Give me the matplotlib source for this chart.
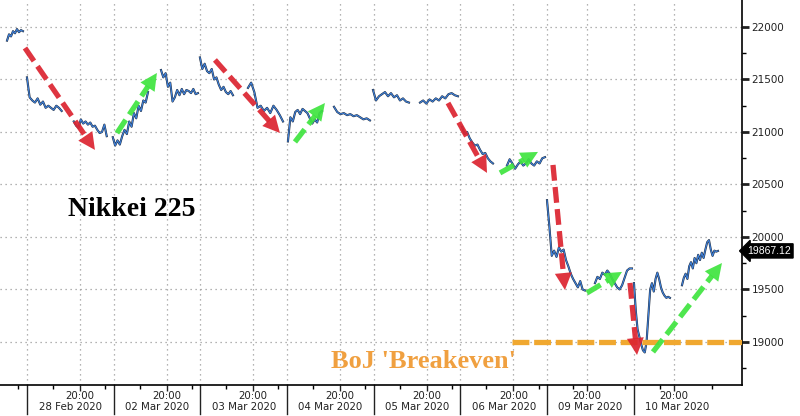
import numpy as np
import matplotlib.pyplot as plt
import matplotlib.transforms as mtransforms
import matplotlib.patheffects as pe

# x axis: one unit per trading day block (0 = 28 Feb)
days = ['28 Feb 2020', '02 Mar 2020', '03 Mar 2020', '04 Mar 2020',
        '05 Mar 2020', '06 Mar 2020', '09 Mar 2020', '10 Mar 2020']
hour20_pos = [0.61, 1.61, 2.61, 3.61, 4.61, 5.61, 6.46, 7.46]

# Nikkei 225 intraday sessions (start, end on x axis, prices)
seg_start = [-0.23, 0.0, 0.54, 0.99, 1.546, 1.995, 2.549, 3.01, 3.541,
             3.991, 4.533, 5.017, 5.536, 5.998, 6.551, 7.001, 7.555]
seg_end = [-0.046, 0.40, 0.92, 1.396, 1.972, 2.376, 2.953, 3.403, 3.956,
           4.406, 4.971, 5.375, 5.975, 6.436, 6.978, 7.416, 7.970]

feb27 = [21870, 21930, 21910, 21960, 21940, 21980, 21950, 21970, 21960]
feb28_am = [21520, 21330, 21300, 21280, 21320, 21260, 21290, 21230, 21250, 21230, 21210, 21250, 21230, 21200]
feb28_pm = [21100, 21060, 21040, 21120, 21080, 21100, 21070, 21090, 21050, 21060, 21020, 20990, 21000, 21070, 20960]
mar02_am = [20950, 20870, 20920, 20880, 20960, 21020, 20980, 21100, 21050, 21180, 21130, 21250, 21200, 21300, 21280, 21380]
mar02_pm = [21590, 21520, 21560, 21430, 21470, 21290, 21330, 21400, 21350, 21410, 21360, 21400, 21390, 21370, 21410, 21360, 21370]
mar03_am = [21710, 21600, 21650, 21580, 21560, 21600, 21500, 21520, 21450, 21400, 21430, 21380, 21360, 21390, 21350]
mar03_pm = [21420, 21470, 21380, 21230, 21250, 21200, 21230, 21180, 21250, 21210, 21160, 21100]
mar04_am = [20910, 21140, 21100, 21190, 21210, 21170, 21220, 21200, 21180, 21130, 21080, 21120, 21090, 21180, 21200]
mar04_pm = [21240, 21190, 21170, 21180, 21160, 21170, 21150, 21160, 21140, 21120, 21130, 21110]
mar05_am = [21400, 21300, 21340, 21360, 21380, 21340, 21370, 21330, 21350, 21300, 21320, 21290, 21280]
mar05_pm = [21280, 21300, 21270, 21310, 21290, 21320, 21300, 21340, 21320, 21360, 21370, 21350, 21340]
mar06_am = [21050, 20980, 21000, 20940, 20900, 20870, 20880, 20830, 20790, 20800, 20750, 20720, 20700]
mar06_pm = [20680, 20740, 20700, 20650, 20690, 20720, 20680, 20700, 20740, 20700, 20680, 20720, 20700, 20750, 20760]
mar09_am = [20350, 20100, 19820, 19870, 19810, 19900, 19860, 19880, 19780, 19720, 19650, 19600, 19560, 19520, 19580, 19500, 19490]
mar09_pm = [19560, 19620, 19600, 19660, 19640, 19680, 19650, 19600, 19560, 19520, 19500, 19540, 19610, 19680, 19700, 19700]
mar10_am = [19560, 19300, 19120, 19050, 18980, 18920, 18900, 19000, 19250, 19500, 19560, 19480, 19600, 19660, 19600, 19520, 19470, 19440, 19420, 19430, 19420]
mar10_pm = [19540, 19610, 19650, 19600, 19720, 19760, 19700, 19800, 19750, 19830, 19780, 19850, 19800, 19880, 19950, 19970, 19880, 19820, 19870, 19860, 19867.12]

sessions = [feb27, feb28_am, feb28_pm, mar02_am, mar02_pm, mar03_am, mar03_pm,
            mar04_am, mar04_pm, mar05_am, mar05_pm, mar06_am, mar06_pm,
            mar09_am, mar09_pm, mar10_am, mar10_pm]
last_price = 19867.12

# trend arrows drawn on the chart (tail -> tip)
arrow_tail_x = [-0.023, 1.038, 2.168, 3.091, 4.856, 5.456, 6.067, 6.459, 6.955, 7.220]
arrow_tail_y = [21800, 20990, 21686, 20905, 21276, 20610, 20686, 19467, 19562, 18905]
arrow_tip_x = [0.784, 1.499, 2.918, 3.437, 5.306, 5.894, 6.205, 6.863, 7.036, 8.016]
arrow_tip_y = [20829, 21562, 20990, 21276, 20610, 20810, 19495, 19667, 18876, 19752]
arrow_dir = ['down', 'up', 'down', 'up', 'down', 'up', 'down', 'up', 'down', 'up']

breakeven = 19000
breakeven_start = 5.594

XMIN, XMAX = -0.311, 8.247

fig = plt.figure(figsize=(8, 4.16), dpi=100)
ax = fig.add_axes([0.0, 31 / 416, 742 / 800, 385 / 416])

# right axis
for sp in ['left', 'top']:
    ax.spines[sp].set_visible(False)
ax.spines['right'].set_linewidth(1.2)
ax.spines['bottom'].set_linewidth(1.2)
ax.yaxis.tick_right()
ax.set_yticks(range(19000, 22001, 500))
ax.set_yticks(range(18750, 22001, 250), minor=True)
ax.tick_params(axis='y', which='major', length=5, width=2, direction='out',
               labelsize=7.5, pad=2, colors='#222222')
ax.tick_params(axis='y', which='minor', length=3, width=1, direction='out')

# bottom axis
ax.set_xticks(hour20_pos)
ax.set_xticklabels(['20:00'] * len(hour20_pos))
minor_pos = [d + f for d in range(-1, 9) for f in (0.3, 0.9) if XMIN < d + f < XMAX]
ax.set_xticks(minor_pos, minor=True)
ax.tick_params(axis='x', which='major', length=4, width=1, labelsize=7.4, pad=0.5, colors='#222222')
ax.tick_params(axis='x', which='minor', length=3, width=1)

ax.set_xlim(XMIN, XMAX)
ax.set_ylim(18590, 22257)

# grid
grid_kw = dict(color='#9a9a9a', lw=0.9, ls=(0, (1, 3)), zorder=0)
for y in range(19000, 22001, 500):
    ax.axhline(y, **grid_kw)
for d in range(8):
    ax.axvline(d, **grid_kw)
for p in hour20_pos:
    ax.axvline(p, **grid_kw)

# price line
for s, e, vals in zip(seg_start, seg_end, sessions):
    xs = np.linspace(s, e, len(vals))
    ax.plot(xs, vals, color='#3f82dc', lw=0.8, zorder=3,
            path_effects=[pe.Stroke(linewidth=1.5, foreground='#202a3a'), pe.Normal()])

# breakeven line
ax.plot([breakeven_start, XMAX], [breakeven, breakeven], color='#f0a830',
        lw=3.8, ls=(0, (3.2, 0.9)), zorder=4, solid_capstyle='butt')

# arrows: dashed shaft + solid head, head built in pixel space
colors = {'down': '#dc2430', 'up': '#3fe43f'}
head_len, head_w = 17.0, 17.0
to_px = ax.transData
to_data = ax.transData.inverted()
for tx, ty, hx, hy, d in zip(arrow_tail_x, arrow_tail_y, arrow_tip_x, arrow_tip_y, arrow_dir):
    c = colors[d]
    p0 = to_px.transform((tx, ty))
    p1 = to_px.transform((hx, hy))
    v = p1 - p0
    u = v / np.hypot(*v)
    n = np.array([-u[1], u[0]])
    base = p1 - u * head_len
    head = np.array([p1, base + n * head_w / 2, base - n * head_w / 2])
    head_d = to_data.transform(head)
    base_d = to_data.transform(base + u * 1.0)
    ax.plot([tx, base_d[0]], [ty, base_d[1]], color=c, lw=3.8, ls=(0, (3.0, 1.2)),
            zorder=5, dash_capstyle='butt', alpha=0.92)
    ax.fill(head_d[:, 0], head_d[:, 1], color=c, lw=0, zorder=5, alpha=0.92)

# texts
ax.text(1.21, 20257, 'Nikkei 225', family='Liberation Serif', weight='bold',
        fontsize=20, color='black', ha='center', va='center')
ax.text(4.57, 18810, "BoJ 'Breakeven'", family='Liberation Serif', weight='bold',
        fontsize=19, color='#f0a040', ha='center', va='center', zorder=6)

trans = mtransforms.blended_transform_factory(ax.transData, ax.transAxes)
for d in range(8):
    ax.plot([d, d], [0, -0.075], color='#222222', lw=1.0, transform=trans, clip_on=False)
for d, lab in enumerate(days):
    ax.text(d + 0.5, -0.058, lab, transform=trans, ha='center', va='center',
            fontsize=7.4, color='#222222')

# last price tag
ytrans = mtransforms.blended_transform_factory(ax.transAxes, ax.transData)
ax.text(1.066, last_price, '%.2f' % last_price, transform=ytrans, ha='right', va='center',
        family='Liberation Sans', fontsize=7.5, color='white', clip_on=False,
        bbox=dict(boxstyle='larrow,pad=0.2', fc='black', ec='black'))

ax.set_xlim(XMIN, XMAX)
fig.savefig('out.png', dpi=100)
